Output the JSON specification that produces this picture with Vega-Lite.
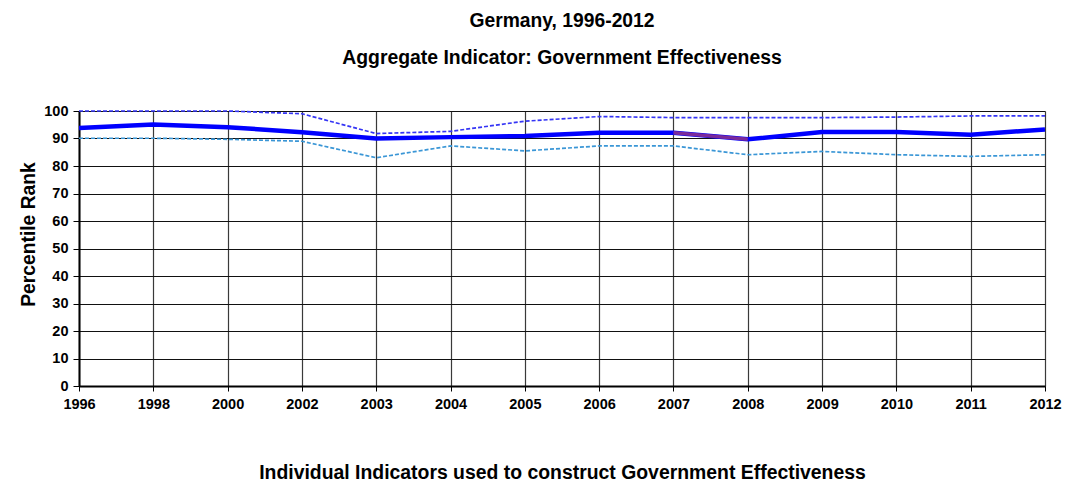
{
  "$schema": "https://vega.github.io/schema/vega-lite/v6.json",
  "autosize": {"type": "none"},
  "padding": {"left": 79, "top": 111, "right": 31, "bottom": 99},
  "width": 966,
  "height": 275,
  "background": "white",
  "title": {
    "text": "Germany, 1996-2012",
    "subtitle": "Aggregate Indicator: Government Effectiveness",
    "anchor": "middle",
    "frame": "group",
    "font": "Liberation Sans",
    "fontSize": 19.3,
    "fontWeight": "bold",
    "color": "#000000",
    "subtitleFont": "Liberation Sans",
    "subtitleFontSize": 19.4,
    "subtitleFontWeight": "bold",
    "subtitleColor": "#000000",
    "subtitlePadding": 17,
    "offset": 36
  },
  "data": {
    "values": [
      {"year": "1996", "series": "Estimate", "value": 93.8},
      {"year": "1998", "series": "Estimate", "value": 95.1},
      {"year": "2000", "series": "Estimate", "value": 94.1},
      {"year": "2002", "series": "Estimate", "value": 92.3},
      {"year": "2003", "series": "Estimate", "value": 90.0},
      {"year": "2004", "series": "Estimate", "value": 90.5},
      {"year": "2005", "series": "Estimate", "value": 90.9},
      {"year": "2006", "series": "Estimate", "value": 92.1},
      {"year": "2007", "series": "Estimate", "value": 92.1},
      {"year": "2008", "series": "Estimate", "value": 89.7},
      {"year": "2009", "series": "Estimate", "value": 92.4},
      {"year": "2010", "series": "Estimate", "value": 92.4},
      {"year": "2011", "series": "Estimate", "value": 91.4},
      {"year": "2012", "series": "Estimate", "value": 93.3},
      {"year": "2007", "series": "Segment", "value": 92.1},
      {"year": "2008", "series": "Segment", "value": 89.7},
      {"year": "1996", "series": "Upper", "value": 100},
      {"year": "1998", "series": "Upper", "value": 100},
      {"year": "2000", "series": "Upper", "value": 100},
      {"year": "2002", "series": "Upper", "value": 99.0},
      {"year": "2003", "series": "Upper", "value": 91.8},
      {"year": "2004", "series": "Upper", "value": 92.6},
      {"year": "2005", "series": "Upper", "value": 96.3},
      {"year": "2006", "series": "Upper", "value": 98.0},
      {"year": "2007", "series": "Upper", "value": 97.6},
      {"year": "2008", "series": "Upper", "value": 97.6},
      {"year": "2009", "series": "Upper", "value": 97.6},
      {"year": "2010", "series": "Upper", "value": 97.8},
      {"year": "2011", "series": "Upper", "value": 98.2},
      {"year": "2012", "series": "Upper", "value": 98.2},
      {"year": "1996", "series": "Lower", "value": 90.1},
      {"year": "1998", "series": "Lower", "value": 90.1},
      {"year": "2000", "series": "Lower", "value": 89.7},
      {"year": "2002", "series": "Lower", "value": 89.0},
      {"year": "2003", "series": "Lower", "value": 83.0},
      {"year": "2004", "series": "Lower", "value": 87.3},
      {"year": "2005", "series": "Lower", "value": 85.5},
      {"year": "2006", "series": "Lower", "value": 87.3},
      {"year": "2007", "series": "Lower", "value": 87.3},
      {"year": "2008", "series": "Lower", "value": 84.1},
      {"year": "2009", "series": "Lower", "value": 85.3},
      {"year": "2010", "series": "Lower", "value": 84.1},
      {"year": "2011", "series": "Lower", "value": 83.5},
      {"year": "2012", "series": "Lower", "value": 84.1}
    ]
  },
  "encoding": {
    "x": {
      "field": "year",
      "type": "ordinal",
      "scale": {"type": "point", "padding": 0},
      "axis": {
        "title": "Individual Indicators used to construct Government Effectiveness",
        "titleFont": "Liberation Sans",
        "titleFontSize": 19.4,
        "titleFontWeight": "bold",
        "titleColor": "#000000",
        "titlePadding": 53,
        "labelAngle": 0,
        "labelFont": "Liberation Sans",
        "labelFontSize": 14.5,
        "labelFontWeight": "bold",
        "labelColor": "#000000",
        "labelPadding": 6,
        "tickSize": 5,
        "tickColor": "#000000",
        "domainColor": "#000000",
        "domainWidth": 2,
        "grid": true,
        "gridColor": "#3a3a3a",
        "gridWidth": 1.2
      }
    },
    "y": {
      "field": "value",
      "type": "quantitative",
      "scale": {"domain": [0, 100], "nice": false, "zero": true},
      "axis": {
        "title": "Percentile Rank",
        "titleFont": "Liberation Sans",
        "titleFontSize": 19.3,
        "titleFontWeight": "bold",
        "titleColor": "#000000",
        "titleY": 123,
        "titlePadding": 5,
        "values": [0, 10, 20, 30, 40, 50, 60, 70, 80, 90, 100],
        "labelFont": "Liberation Sans",
        "labelFontSize": 14.5,
        "labelFontWeight": "bold",
        "labelColor": "#000000",
        "labelPadding": 5,
        "tickSize": 6,
        "tickColor": "#000000",
        "domainColor": "#000000",
        "domainWidth": 2,
        "grid": true,
        "gridColor": "#111111",
        "gridWidth": 1.2
      }
    }
  },
  "layer": [
    {
      "transform": [{"filter": "datum.series === 'Lower'"}],
      "mark": {"type": "line", "color": "#3a96d6", "strokeWidth": 1.7, "strokeDash": [4, 2]}
    },
    {
      "transform": [{"filter": "datum.series === 'Upper'"}],
      "mark": {"type": "line", "color": "#3535f5", "strokeWidth": 1.7, "strokeDash": [4, 2]}
    },
    {
      "transform": [{"filter": "datum.series === 'Estimate'"}],
      "mark": {"type": "line", "color": "#0000ff", "strokeWidth": 4.5}
    },
    {
      "transform": [{"filter": "datum.series === 'Segment'"}],
      "mark": {"type": "line", "color": "#7a2a9a", "strokeWidth": 3.5}
    }
  ],
  "config": {
    "view": {"stroke": null}
  }
}
